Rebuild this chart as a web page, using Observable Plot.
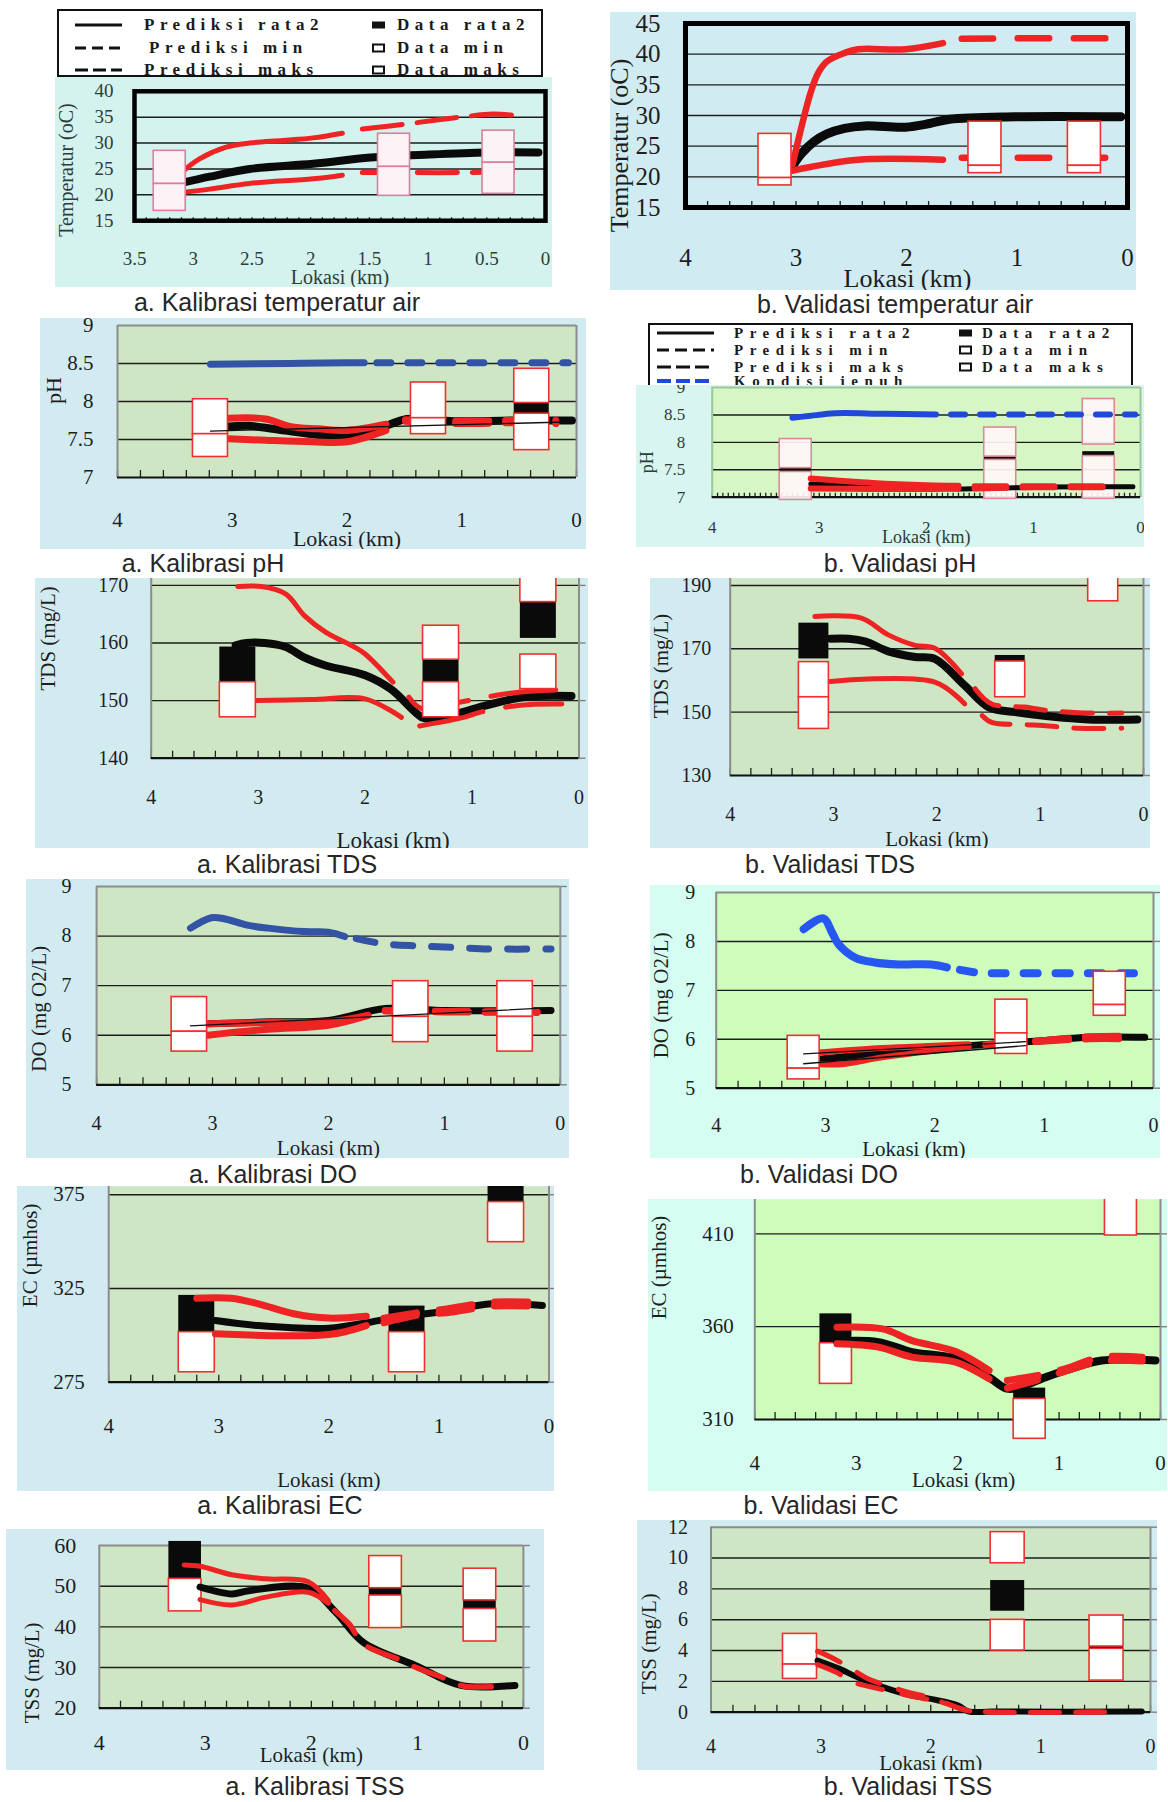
<!DOCTYPE html>
<html><head><meta charset="utf-8">
<script src="https://cdn.jsdelivr.net/npm/d3@7"></script>
<script src="https://cdn.jsdelivr.net/npm/@observablehq/plot@0.6"></script>
<style>
body{margin:0;background:#fff;}
#page{position:relative;width:1168px;height:1802px;overflow:hidden;background:#fff;}
.panel{position:absolute;overflow:hidden;z-index:2;}
.panel svg{display:block;}
.cap{position:absolute;transform:translate(-50%,-50%);font-family:'Liberation Sans',Arial,sans-serif;font-size:25px;color:#262626;white-space:nowrap;}
.legend{position:absolute;z-index:1;background:#fff;border:2px solid #111;box-sizing:border-box;overflow:hidden;}
.legend .t{position:absolute;white-space:nowrap;transform:translateY(-50%);font-family:'Liberation Serif',serif;color:#1a1a1a;font-weight:bold;}
.legend .s{position:absolute;transform:translateY(-50%);}
</style></head><body><div id="page"></div>
<script>
// ---------------- DATA ----------------
// a. Kalibrasi temperatur air
const tempKalRata = [[3.08,22.4],[2.86,23.5],[2.52,25.0],[1.98,26.0],[1.49,27.2],[0.99,27.8],[0.5,28.2],[0.06,28.2]];
const tempKalMaks = [[3.08,24.7],[2.95,26.9],[2.72,29.2],[2.52,30.0],[2.24,30.5],[1.98,31.0],[1.73,31.9],[1.56,32.7],[1.18,33.7],[0.91,34.5],[0.69,35.1],[0.45,35.6],[0.23,35.3]];
const tempKalMin = [[3.08,20.5],[2.86,21.1],[2.52,22.2],[1.98,23.1],[1.73,23.8],[1.56,24.3],[1.2,24.3],[0.69,24.3],[0.26,24.5]];
const tempKalData = [{km:3.2,maks:[22.1,28.5],min:[16.9,22.1]},{km:1.29,maks:[25.4,31.8],min:[19.8,25.4]},{km:0.40,maks:[26.2,32.4],min:[20.2,26.2]}];
// b. Validasi temperatur air
const tempValRata = [[3.03,21.8],[2.95,23.8],[2.84,25.7],[2.72,27.0],[2.56,27.9],[2.38,28.3],[2.01,28.1],[1.79,28.7],[1.61,29.4],[1.02,29.8],[0.06,29.8]];
const tempValMaks = [[3.03,22.1],[2.87,33.6],[2.80,36.9],[2.72,38.8],[2.56,40.2],[2.44,40.8],[2.01,40.8],[1.67,41.8],[1.5,42.5],[1.0,42.6],[0.19,42.6]];
const tempValMin = [[3.03,21.0],[2.87,21.6],[2.44,22.8],[1.67,22.8],[1.5,23.1],[0.19,23.1]];
const tempValData = [{km:3.19,maks:[19.8,27.0],min:[18.6,19.8]},{km:1.29,maks:[21.8,29.0],min:[20.6,21.8]},{km:0.39,maks:[21.8,29.0],min:[20.6,21.8]}];
// a. Kalibrasi pH
const phKalJenuh = [[3.19,8.49],[2.5,8.5],[2.0,8.51],[1.85,8.51],[1.74,8.51],[0.07,8.51]];
const phKalRata = [[3.03,7.67],[2.86,7.68],[2.56,7.62],[2.25,7.56],[2.0,7.54],[1.66,7.68],[1.48,7.77],[1.07,7.74],[0.55,7.75],[0.04,7.75]];
const phKalMaks = [[3.03,7.78],[2.71,7.77],[2.49,7.67],[2.25,7.64],[2.0,7.62],[1.66,7.70],[1.49,7.76],[1.01,7.74],[0.58,7.75],[0.18,7.75]];
const phKalMin = [[3.03,7.51],[2.71,7.49],[2.31,7.47],[2.0,7.47],[1.66,7.62],[1.49,7.74],[1.01,7.71],[0.58,7.72],[0.18,7.71]];
const phKalTipis = [[3.19,7.61],[0.09,7.73]];
const phKalData = [{km:3.19,maks:[7.57,8.03],min:[7.27,7.57]},{km:1.29,maks:[7.78,8.25],min:[7.57,7.78]},{km:0.39,maks:[7.98,8.43],rata:[7.84,7.98],min:[7.36,7.84]}];
// b. Validasi pH
const phValJenuh = [[3.25,8.45],[3.10,8.48],[2.85,8.53],[2.4,8.52],[1.91,8.51],[1.77,8.51],[0.05,8.51]];
const phValRata = [[3.08,7.24],[2.5,7.2],[2.0,7.17],[1.7,7.15],[1.5,7.16],[1.0,7.18],[0.5,7.19],[0.07,7.19]];
const phValMaks = [[3.08,7.34],[2.5,7.26],[2.0,7.22],[1.7,7.21],[1.55,7.2],[1.0,7.2],[0.3,7.2]];
const phValMin = [[3.08,7.16],[2.5,7.15],[2.0,7.15],[1.7,7.16],[1.55,7.16],[1.0,7.18],[0.3,7.18]];
const phValData = [{km:3.22,maks:[7.53,8.06],rata:[7.46,7.53],min:[6.95,7.46]},{km:1.31,maks:[7.74,8.27],rata:[7.68,7.74],min:[6.97,7.68]},{km:0.39,maks:[7.96,8.79],rata:[7.75,7.83],min:[6.97,7.75]}];
// a. Kalibrasi TDS
const tdsKalRata = [[3.21,159.6],[3.11,160.0],[2.94,160.0],[2.74,159.3],[2.57,157.5],[2.37,156.1],[2.0,154.4],[1.76,152.0],[1.47,147.1],[1.39,146.8],[1.09,148.0],[0.92,148.9],[0.51,150.6],[0.07,150.8]];
const tdsKalMaks = [[3.19,169.8],[2.97,169.8],[2.74,168.5],[2.57,164.8],[2.37,161.9],[2.10,159.3],[2.0,158.1],[1.74,153.2],[1.59,150.6],[1.47,148.6],[1.12,149.7],[0.9,150.5],[0.55,151.5],[0.16,151.9]];
const tdsKalMin = [[3.02,150.0],[2.5,150.2],[2.0,150.3],[1.66,147.1],[1.49,145.6],[1.1,147.0],[0.92,148.0],[0.55,149.2],[0.16,149.4]];
const tdsKalData = [{km:3.19,rata:[153.2,159.3],min:[147.1,153.2]},{km:1.29,maks:[157.1,163.0],rata:[153.2,157.1],min:[147.1,153.2]},{km:0.38,maks:[167.1,173.2],rata:[160.8,167.1],min:[152.0,158.0]}];
// b. Validasi TDS
const tdsValRata = [[3.03,173.2],[2.85,173.2],[2.69,172.3],[2.47,169.2],[2.21,167.4],[2.02,166.8],[1.73,158.4],[1.5,151.6],[1.24,150.0],[0.92,148.7],[0.53,147.7],[0.06,147.7]];
const tdsValMaks = [[3.18,180.2],[2.73,179.7],[2.47,174.4],[2.21,171.1],[2.02,170.2],[1.76,162.1],[1.63,157.4],[1.47,152.6],[1.15,151.6],[0.97,150.7],[0.63,149.8],[0.21,149.7]];
const tdsValMin = [[3.03,159.7],[2.02,159.5],[1.73,152.6],[1.56,148.9],[1.47,146.8],[1.15,146.1],[0.97,145.8],[0.63,144.9],[0.21,144.9]];
const tdsValData = [{km:3.19,rata:[166.8,178.1],maks:[154.7,165.8],min:[144.7,154.7]},{km:1.29,rata:[166.0,167.9],min:[154.7,166.0]},{km:0.39,maks:[185.0,196.0]}];
// a. Kalibrasi DO
const doKalJenuh = [[3.19,8.16],[3.01,8.37],[2.90,8.35],[2.70,8.22],[2.52,8.16],[2.21,8.09],[2.0,8.08],[1.86,7.99],[1.76,7.95],[1.51,7.84],[1.21,7.80],[0.9,7.77],[0.6,7.74],[0.08,7.74]];
const doKalRata = [[3.04,6.23],[2.5,6.27],[2.0,6.30],[1.51,6.54],[0.99,6.50],[0.08,6.50]];
const doKalMaks = [[3.04,6.23],[2.5,6.26],[2.0,6.27],[1.66,6.40],[1.51,6.50],[1.0,6.48],[0.2,6.47]];
const doKalMin = [[3.04,6.0],[2.52,6.12],[2.0,6.20],[1.66,6.40],[1.51,6.49],[1.0,6.47],[0.2,6.46]];
const doKalTipis = [[3.19,6.19],[0.2,6.54]];
const doKalData = [{km:3.20,maks:[6.07,6.77],min:[5.67,6.07]},{km:1.29,maks:[6.37,7.09],min:[5.86,6.37]},{km:0.39,maks:[6.37,7.09],min:[5.67,6.37]}];
// b. Validasi DO
const doValJenuh = [[3.20,8.25],[3.02,8.47],[2.94,8.18],[2.88,7.94],[2.73,7.67],[2.55,7.57],[2.33,7.53],[2.03,7.53],[1.89,7.47],[1.77,7.42],[1.60,7.36],[1.33,7.35],[0.11,7.35]];
const doValRata = [[3.06,5.59],[2.48,5.72],[1.69,5.87],[1.02,5.97],[0.59,6.04],[0.08,6.04]];
const doValMaks = [[3.06,5.73],[2.48,5.82],[1.69,5.90],[1.54,5.90],[1.02,5.98],[0.59,6.06],[0.2,6.07]];
const doValMin = [[3.06,5.49],[2.85,5.49],[2.48,5.63],[1.69,5.85],[1.54,5.88],[1.02,5.95],[0.59,6.0],[0.2,6.0]];
const doValTipis1 = [[3.20,5.70],[1.17,5.95]];
const doValTipis2 = [[3.20,5.50],[1.17,5.87]];
const doValData = [{km:3.20,maks:[5.40,6.07],min:[5.18,5.40]},{km:1.30,maks:[6.12,6.81],min:[5.70,6.12]},{km:0.40,maks:[6.70,7.38],min:[6.48,6.70]}];
// a. Kalibrasi EC
const ecKalRata = [[3.03,307.9],[2.64,305.2],[2.0,303.8],[1.63,307.0],[1.37,309.7],[0.96,312.7],[0.52,316.8],[0.06,315.9]];
const ecKalMaks = [[3.2,319.8],[2.89,319.8],[2.64,316.8],[2.32,311.5],[2.0,309.2],[1.66,310.2],[1.5,309.2],[1.12,312.7],[0.93,314.1],[0.52,317.7],[0.17,317.7]];
const ecKalMin = [[3.03,300.8],[2.0,300.4],[1.66,305.2],[1.5,306.7],[1.12,311.5],[0.93,312.0],[0.52,315.6],[0.17,315.6]];
const ecKalData = [{km:3.20,rata:[301.7,321.3],min:[280.3,301.7]},{km:1.29,rata:[301.7,315.6],min:[280.3,301.7]},{km:0.39,rata:[371.1,392.0],min:[349.7,371.1]}];
// b. Validasi EC
const ecValRata = [[3.19,352.2],[2.78,351.7],[2.45,346.3],[2.02,342.7],[1.69,332.8],[1.50,326.5],[1.13,332.8],[0.94,336.4],[0.58,341.8],[0.05,341.8]];
const ecValMaks = [[3.19,359.7],[2.74,358.8],[2.45,352.5],[2.02,346.6],[1.69,336.4],[1.51,331.0],[1.13,334.6],[0.94,337.3],[0.58,343.6],[0.18,343.6]];
const ecValMin = [[3.19,350.8],[2.78,349.0],[2.45,343.6],[2.02,340.9],[1.69,331.9],[1.51,326.9],[1.13,332.5],[0.94,336.0],[0.58,341.5],[0.18,341.5]];
const ecValData = [{km:3.20,rata:[351.1,366.9],min:[329.2,351.1]},{km:1.29,rata:[321.1,326.9],min:[299.6,321.1]},{km:0.39,maks:[409.1,432.0]}];
// a. Kalibrasi TSS
const tssKalRata = [[3.05,49.8],[2.75,48.1],[2.59,48.9],[2.03,49.5],[1.77,43.6],[1.51,36.2],[1.02,30.5],[0.59,25.6],[0.08,25.6]];
const tssKalMaks = [[3.2,55.2],[3.05,54.9],[2.75,52.8],[2.43,51.8],[2.03,51.1],[1.84,46.5],[1.78,44.0],[1.64,40.7],[1.51,35.8],[1.18,32.1],[1.02,30.1],[0.69,26.8],[0.56,25.4],[0.21,25.4]];
const tssKalMin = [[3.05,46.7],[2.75,45.4],[2.43,47.3],[2.03,48.5],[1.84,45.8],[1.78,44.0],[1.64,40.5],[1.51,35.8],[1.18,32.0],[1.02,30.1],[0.69,26.8],[0.56,25.4],[0.21,25.4]];
const tssKalData = [{km:3.19,rata:[51.8,61.0],min:[43.8,51.8]},{km:1.30,maks:[49.5,57.4],rata:[47.7,49.5],min:[39.7,47.7]},{km:0.41,maks:[46.5,54.3],rata:[44.4,46.5],min:[36.4,44.4]}];
// b. Validasi TSS
const tssValRata = [[3.03,3.35],[2.83,2.81],[2.68,2.31],[2.52,1.84],[2.21,1.15],[2.0,0.86],[1.75,0.43],[1.66,0.06],[1.44,0.04],[0.08,0.04]];
const tssValMaks = [[3.03,3.96],[2.86,3.39],[2.71,2.75],[2.55,2.1],[2.4,1.73],[2.21,1.3],[2.0,0.95],[1.87,0.58],[1.7,0.2],[1.55,0.04],[0.3,0.02]];
const tssValMin = [[3.03,3.09],[2.86,2.59],[2.71,1.95],[2.55,1.65],[2.4,1.41],[2.21,1.1],[2.0,0.8],[1.87,0.6],[1.7,0.15],[1.55,0.02],[0.3,0.02]];
const tssValData = [{km:3.19,maks:[3.09,5.08],min:[2.16,3.09]},{km:1.30,maks:[9.66,11.68],rata:[6.55,8.54],min:[4.0,5.99]},{km:0.40,maks:[4.26,6.27],rata:[4.11,4.26],min:[2.05,4.11]}];

// tick labels
const kmTicks = [4,3,2,1,0];
const kmTicksHalf = [3.5,3,2.5,2,1.5,1,0.5,0];

// ---------------- DRAWING ----------------
const serif = "'Liberation Serif','Times New Roman',serif";
const RED = "#ee2424", BLK = "#0a0a0a";
const page = document.getElementById("page");

function seriesMarks(s) {
  const cut = s.cut ?? -Infinity;
  const solid = s.pts.filter(p => p[0] >= cut);
  const dashed = s.pts.filter(p => p[0] <= cut);
  const base = {x: d => d[0], y: d => d[1], stroke: s.color, strokeWidth: s.width, curve: "catmull-rom", strokeLinecap: "round", strokeLinejoin: "round"};
  const out = [];
  if (solid.length > 1) out.push(Plot.line(solid, base));
  if (dashed.length > 1) {
    const [D, G] = s.dash;
    out.push(Plot.line(dashed, {...base, strokeDasharray: `${Math.max(0.5, D - s.width)},${G + s.width}`}));
  }
  return out;
}

function boxMarks(data, c) {
  const hw = c.boxHW;
  const base = {x1: d => d.km, x2: d => d.km, insetLeft: -hw, insetRight: -hw};
  const wb = {fill: c.boxFill || "#fff", fillOpacity: c.boxOpacity || 1, stroke: c.boxStroke || "#ee3030", strokeWidth: 1.6};
  return [
    Plot.rect(data.filter(d => d.rata), {...base, y1: d => d.rata[0], y2: d => d.rata[1], fill: BLK}),
    Plot.rect(data.filter(d => d.maks), {...base, y1: d => d.maks[0], y2: d => d.maks[1], ...wb}),
    Plot.rect(data.filter(d => d.min), {...base, y1: d => d.min[0], y2: d => d.min[1], ...wb})
  ];
}

function makePanel(c) {
  const ml = c.fx0 - c.left, mr = c.left + c.w - c.fx1, mt = c.fy0 - c.top, mb = c.top + c.h - c.fy1;
  const pw = c.w - ml - mr, ph = c.h - mt - mb;
  const [x0, x1] = c.xDomain;
  const [y0, y1] = c.yDomain;
  const fs = c.fontSize, ts = c.titleSize || c.fontSize;
  const ink = c.ink || "#1e1e1e";
  const marks = [Plot.frame({fill: c.plotBg})];
  marks.push(Plot.ruleY(c.grid, {stroke: "#1c1c1c", strokeWidth: 1.4}));
  if (c.outTicks) marks.push(Plot.ruleY(c.yTicks, {insetLeft: pw, insetRight: -7, stroke: "#808080", strokeWidth: 1.4}));
  const n = Math.round(Math.abs(x0 - x1) / c.minorStep);
  marks.push(Plot.ruleX(d3.range(n + 1).map(i => x1 + i * c.minorStep), {insetTop: ph - c.minorLen, stroke: "#222", strokeWidth: 1.3}));
  if (c.frame === "black") {
    marks.push(Plot.frame({stroke: "#000", strokeWidth: c.frameW}));
  } else {
    const fc = c.frameColor || "#8c8c8c";
    marks.push(Plot.ruleX([x0, x1], {stroke: fc, strokeWidth: 2}));
    if (!c.topCut) marks.push(Plot.ruleY([y1], {stroke: fc, strokeWidth: 2}));
    marks.push(Plot.ruleY([y0], {stroke: "#111", strokeWidth: 2.2}));
  }
  const lineMarks = c.series.flatMap(seriesMarks);
  const boxes = boxMarks(c.data, c);
  const thin = (c.thin || []).map(t => Plot.line(t, {x: d => d[0], y: d => d[1], stroke: "#111", strokeWidth: 1.3}));
  if (c.linesOver) marks.push(...boxes, ...lineMarks, ...thin);
  else marks.push(...lineMarks, ...boxes, ...thin);
  const txt = {fontFamily: serif, fill: ink, lineAnchor: "middle"};
  marks.push(Plot.text(c.xTicks, {...txt, x: d => d, y: () => y0, dy: c.xLabDy, text: d => String(d), fontSize: fs, textAnchor: "middle"}));
  marks.push(Plot.text(c.yTicks, {...txt, x: () => x0, y: d => d, dx: c.yLabDx, text: d => String(d), fontSize: fs, textAnchor: "end"}));
  marks.push(Plot.text([c.xTitle], {...txt, frameAnchor: "bottom", dx: c.xTitleDx, dy: c.xTitleDy, text: d => d, fontSize: c.xTitleSize || ts, textAnchor: "middle"}));
  marks.push(Plot.text([c.yTitle], {...txt, frameAnchor: "left", rotate: -90, dx: c.yTitleDx, dy: c.yTitleDy, text: d => d, fontSize: ts, textAnchor: "middle"}));

  const svg = Plot.plot({
    width: c.w, height: c.h,
    marginLeft: ml, marginRight: mr, marginTop: mt, marginBottom: mb,
    x: {domain: c.xDomain, axis: null},
    y: {domain: c.yDomain, axis: null},
    style: {background: "transparent", overflow: "hidden"},
    marks
  });
  const div = document.createElement("div");
  div.className = "panel";
  div.style.cssText = `left:${c.left}px;top:${c.top}px;width:${c.w}px;height:${c.h}px;background:${c.outerBg};`;
  div.append(svg);
  page.append(div);
  const cap = document.createElement("div");
  cap.className = "cap";
  cap.textContent = c.caption[0];
  cap.style.left = c.caption[1] + "px";
  cap.style.top = c.caption[2] + "px";
  page.append(cap);
}

function makeLegend(L) {
  const d = document.createElement("div");
  d.className = "legend";
  d.style.cssText = `left:${L.left}px;top:${L.top}px;width:${L.w}px;height:${L.h}px;`;
  for (const r of L.rows) {
    const s = document.createElement("div");
    s.className = "s";
    const col = r.color || "#111";
    const bg = r.sample === "solid" ? col : `repeating-linear-gradient(90deg, ${col} 0 ${r.dl}px, transparent ${r.dl}px ${r.dl + r.dg}px)`;
    s.style.cssText = `left:${L.sx}px;top:${r.y}px;width:${L.sw}px;height:${r.th || 3}px;background:${bg};`;
    d.append(s);
    const t = document.createElement("div");
    t.className = "t";
    t.textContent = r.text;
    t.style.cssText += `left:${r.tx}px;top:${r.y}px;font-size:${L.font}px;letter-spacing:${L.ls}px;`;
    d.append(t);
    if (r.mtext) {
      const m = document.createElement("div");
      m.className = "s";
      m.style.cssText = r.mk === "fill"
        ? `left:${L.mx}px;top:${r.y}px;width:13px;height:7px;background:#111;`
        : `left:${L.mx}px;top:${r.y}px;width:9px;height:5px;border:2.5px solid #111;background:#fff;`;
      d.append(m);
      const mt = document.createElement("div");
      mt.className = "t";
      mt.textContent = r.mtext;
      mt.style.cssText += `left:${L.mtx}px;top:${r.y}px;font-size:${L.font}px;letter-spacing:${L.ls}px;`;
      d.append(mt);
    }
  }
  page.append(d);
}

const greenPlot = "#cfe6c4", blueOuter = "#d2ebf1";

const panels = [
  {left:55, top:77, w:497, h:210, fx0:134, fx1:545, fy0:90.8, fy1:220.2,
   xDomain:[3.5,0], yDomain:[15,40], xTicks:kmTicksHalf, yTicks:[15,20,25,30,35,40], grid:[20,25,30,35],
   xLabDy:38, yLabDx:-21, xTitle:"Lokasi (km)", xTitleDx:0, xTitleDy:57, yTitle:"Temperatur (oC)", yTitleDx:-68, yTitleDy:14,
   fontSize:19, titleSize:20, ink:"#2e3d3a", frame:"black", frameW:4.5, plotBg:"#d4f2ee", outerBg:"#d4f2ee",
   minorStep:0.1, minorLen:3, boxHW:16, boxStroke:"#e07d9c", boxFill:"#fdf3f7",
   series:[{pts:tempKalRata,color:BLK,width:8},{pts:tempKalMaks,cut:1.65,color:RED,width:5,dash:[45,10]},{pts:tempKalMin,cut:1.65,color:RED,width:5,dash:[45,10]}],
   data:tempKalData, caption:["a. Kalibrasi temperatur air",277,302]},
  {left:610, top:12, w:526, h:278, fx0:685, fx1:1127, fy0:23, fy1:207,
   xDomain:[4,0], yDomain:[15,45], xTicks:kmTicks, yTicks:[15,20,25,30,35,40,45], grid:[20,25,30,35,40],
   xLabDy:50, yLabDx:-25, xTitle:"Lokasi (km)", xTitleDx:1, xTitleDy:71, yTitle:"Temperatur (oC)", yTitleDx:-66, yTitleDy:30,
   fontSize:25, titleSize:26, frame:"black", frameW:5, plotBg:"#d0ebf2", outerBg:"#d0ebf2",
   minorStep:0.2, minorLen:6, boxHW:16.5,
   series:[{pts:tempValRata,color:BLK,width:9},{pts:tempValMaks,cut:1.6,color:RED,width:6.5,dash:[38,18]},{pts:tempValMin,cut:1.6,color:RED,width:6.5,dash:[38,18]}],
   data:tempValData, caption:["b. Validasi temperatur air",895,304]},
  {left:40, top:318, w:546, h:231, fx0:117, fx1:576, fy0:325, fy1:477,
   xDomain:[4,0], yDomain:[7,9], xTicks:kmTicks, yTicks:[7,7.5,8,8.5,9], grid:[7.5,8,8.5],
   xLabDy:43, yLabDx:-24, xTitle:"Lokasi (km)", xTitleDx:0, xTitleDy:61, yTitle:"pH", yTitleDx:-64, yTitleDy:-11,
   fontSize:21, titleSize:22, plotBg:greenPlot, outerBg:blueOuter,
   minorStep:0.2, minorLen:7, boxHW:17.5,
   series:[{pts:phKalJenuh,cut:1.8,color:"#3353a5",width:7,dash:[21,10]},{pts:phKalRata,color:BLK,width:8},{pts:phKalMaks,cut:1.6,color:RED,width:7,dash:[40,10]},{pts:phKalMin,cut:1.6,color:RED,width:7,dash:[40,10]}],
   thin:[phKalTipis], data:phKalData, caption:["a. Kalibrasi pH",203,563]},
  {left:636, top:385, w:508, h:162, fx0:711.7, fx1:1140, fy0:387, fy1:496.7,
   xDomain:[4,0], yDomain:[7,9], xTicks:kmTicks, yTicks:[7,7.5,8,8.5,9], grid:[7.5,8,8.5],
   xLabDy:30, yLabDx:-27, xTitle:"Lokasi (km)", xTitleDx:0, xTitleDy:40, yTitle:"pH", yTitleDx:-65, yTitleDy:20,
   fontSize:17, titleSize:18, ink:"#2e3d3a", plotBg:"#d6f6c6", outerBg:"#d8f5ef", frameColor:"#9cc79c",
   minorStep:0.05, minorLen:4, boxHW:16, boxStroke:"#dc8a98", boxFill:"#fff6f6", boxOpacity:0.92, linesOver:true,
   series:[{pts:phValJenuh,cut:1.84,color:"#2148d8",width:6,dash:[20,9]},{pts:phValRata,color:BLK,width:5},{pts:phValMaks,cut:1.62,color:RED,width:6,dash:[38,10]},{pts:phValMin,cut:1.62,color:RED,width:6,dash:[38,10]}],
   data:phValData, caption:["b. Validasi pH",900,563]},
  {left:35, top:578, w:553, h:270, fx0:150.7, fx1:578.5, fy0:578, fy1:757.7,
   xDomain:[4,0], yDomain:[140,171.2], xTicks:kmTicks, yTicks:[140,150,160,170], grid:[150,160,170], topCut:true, outTicks:true,
   xLabDy:39, yLabDx:-23, xTitle:"Lokasi (km)", xTitleDx:28, xTitleDy:82, xTitleSize:23, yTitle:"TDS (mg/L)", yTitleDx:-103, yTitleDy:-30,
   fontSize:20, titleSize:21, plotBg:greenPlot, outerBg:blueOuter,
   minorStep:0.2, minorLen:7, boxHW:18,
   series:[{pts:tdsKalRata,color:BLK,width:8},{pts:tdsKalMaks,cut:1.66,color:RED,width:5,dash:[70,18]},{pts:tdsKalMin,cut:1.6,color:RED,width:5,dash:[70,18]}],
   data:tdsKalData, caption:["a. Kalibrasi TDS",287,864]},
  {left:650, top:578, w:500, h:270, fx0:729.7, fx1:1143, fy0:578, fy1:775,
   xDomain:[4,0], yDomain:[130,192.2], xTicks:kmTicks, yTicks:[130,150,170,190], grid:[150,170,190], topCut:true, outTicks:true,
   xLabDy:39, yLabDx:-19, xTitle:"Lokasi (km)", xTitleDx:0, xTitleDy:64, yTitle:"TDS (mg/L)", yTitleDx:-69, yTitleDy:-11,
   fontSize:20, titleSize:21, plotBg:greenPlot, outerBg:blueOuter,
   minorStep:0.2, minorLen:7, boxHW:15,
   series:[{pts:tdsValRata,color:BLK,width:8},{pts:tdsValMaks,cut:1.7,color:RED,width:5,dash:[35,12]},{pts:tdsValMin,cut:1.65,color:RED,width:5,dash:[35,12]}],
   data:tdsValData, caption:["b. Validasi TDS",830,864]},
  {left:26, top:879, w:543, h:279, fx0:96.1, fx1:559.8, fy0:886, fy1:1084.3,
   xDomain:[4,0], yDomain:[5,9], xTicks:kmTicks, yTicks:[5,6,7,8,9], grid:[6,7,8], outTicks:true,
   xLabDy:39, yLabDx:-25, xTitle:"Lokasi (km)", xTitleDx:0, xTitleDy:63, yTitle:"DO (mg O2/L)", yTitleDx:-57, yTitleDy:23,
   fontSize:20, titleSize:21, plotBg:greenPlot, outerBg:blueOuter,
   minorStep:0.2, minorLen:7, boxHW:17.7,
   series:[{pts:doKalJenuh,cut:1.8,color:"#3353a5",width:7,dash:[26,12]},{pts:doKalRata,color:BLK,width:7},{pts:doKalMaks,cut:1.6,color:RED,width:7,dash:[40,10]},{pts:doKalMin,cut:1.6,color:RED,width:7,dash:[40,10]}],
   thin:[doKalTipis], data:doKalData, caption:["a. Kalibrasi DO",273,1174]},
  {left:650, top:885, w:510, h:273, fx0:715.7, fx1:1153, fy0:892, fy1:1087.7,
   xDomain:[4,0], yDomain:[5,9], xTicks:kmTicks, yTicks:[5,6,7,8,9], grid:[6,7,8], outTicks:true,
   xLabDy:37, yLabDx:-21, xTitle:"Lokasi (km)", xTitleDx:-21, xTitleDy:61, yTitle:"DO (mg O2/L)", yTitleDx:-55, yTitleDy:5,
   fontSize:20, titleSize:21, plotBg:"#cdfcbb", outerBg:"#d5fdf1",
   minorStep:0.2, minorLen:7, boxHW:16,
   series:[{pts:doValJenuh,cut:1.83,color:"#2657f0",width:8,dash:[22,10]},{pts:doValRata,color:BLK,width:7},{pts:doValMaks,cut:1.6,color:RED,width:6,dash:[40,10]},{pts:doValMin,cut:1.6,color:RED,width:6,dash:[40,10]}],
   thin:[doValTipis1, doValTipis2], data:doValData, caption:["b. Validasi DO",819,1174]},
  {left:17, top:1186, w:537, h:305, fx0:108.2, fx1:548.5, fy0:1186, fy1:1381.7,
   xDomain:[4,0], yDomain:[275,379.4], xTicks:kmTicks, yTicks:[275,325,375], grid:[325,375], topCut:true, outTicks:true,
   xLabDy:44, yLabDx:-24, xTitle:"Lokasi (km)", xTitleDx:0, xTitleDy:98, yTitle:"EC (µmhos)", yTitleDx:-78, yTitleDy:-29,
   fontSize:21, titleSize:21, plotBg:greenPlot, outerBg:blueOuter,
   minorStep:0.2, minorLen:7, boxHW:18, linesOver:true,
   series:[{pts:ecKalRata,color:BLK,width:7},{pts:ecKalMaks,cut:1.58,color:RED,width:7,dash:[40,16]},{pts:ecKalMin,cut:1.58,color:RED,width:7,dash:[40,16]}],
   data:ecKalData, caption:["a. Kalibrasi EC",280,1505]},
  {left:648, top:1199, w:519, h:292, fx0:754.3, fx1:1160, fy0:1199, fy1:1419,
   xDomain:[4,0], yDomain:[310,428.5], xTicks:kmTicks, yTicks:[310,360,410], grid:[360,410], topCut:true, outTicks:true,
   xLabDy:44, yLabDx:-21, xTitle:"Lokasi (km)", xTitleDx:6, xTitleDy:61, yTitle:"EC (µmhos)", yTitleDx:-96, yTitleDy:-42,
   fontSize:21, titleSize:21, plotBg:"#cdfcbb", outerBg:"#d5fdf1",
   minorStep:0.2, minorLen:7, boxHW:16, linesOver:true,
   series:[{pts:ecValRata,color:BLK,width:8},{pts:ecValMaks,cut:1.6,color:RED,width:7,dash:[38,16]},{pts:ecValMin,cut:1.6,color:RED,width:7,dash:[38,16]}],
   data:ecValData, caption:["b. Validasi EC",821,1505]},
  {left:6, top:1529, w:538, h:241, fx0:98.8, fx1:522.9, fy0:1545, fy1:1707.7,
   xDomain:[4,0], yDomain:[20,60], xTicks:kmTicks, yTicks:[20,30,40,50,60], grid:[30,40,50], outTicks:true,
   xLabDy:35, yLabDx:-23, xTitle:"Lokasi (km)", xTitleDx:0, xTitleDy:47, yTitle:"TSS (mg/L)", yTitleDx:-67, yTitleDy:46,
   fontSize:22, titleSize:21, plotBg:greenPlot, outerBg:blueOuter,
   minorStep:0.2, minorLen:7, boxHW:16.3, linesOver:true,
   series:[{pts:tssKalRata,color:BLK,width:7},{pts:tssKalMaks,cut:1.81,color:RED,width:5,dash:[36,14]},{pts:tssKalMin,cut:1.81,color:RED,width:5,dash:[36,14]}],
   data:tssKalData, caption:["a. Kalibrasi TSS",315,1786]},
  {left:637, top:1520, w:520, h:250, fx0:710.5, fx1:1150, fy0:1526.7, fy1:1711.7,
   xDomain:[4,0], yDomain:[0,12], xTicks:kmTicks, yTicks:[0,2,4,6,8,10,12], grid:[2,4,6,8,10], outTicks:true,
   xLabDy:34, yLabDx:-23, xTitle:"Lokasi (km)", xTitleDx:0, xTitleDy:51, yTitle:"TSS (mg/L)", yTitleDx:-62, yTitleDy:24,
   fontSize:20, titleSize:21, plotBg:greenPlot, outerBg:blueOuter,
   minorStep:0.2, minorLen:7, boxHW:17, linesOver:true,
   series:[{pts:tssValRata,color:BLK,width:6},{pts:tssValMaks,cut:99,color:RED,width:5,dash:[30,15]},{pts:tssValMin,cut:99,color:RED,width:5,dash:[30,15]}],
   data:tssValData, caption:["b. Validasi TSS",908,1786]}
];

makeLegend({left:57, top:9, w:486, h:68, font:17, ls:5.5, sx:16, sw:47, mx:313, mtx:338, rows:[
  {y:14, sample:"solid", text:"Prediksi rata2", tx:85, mk:"fill", mtext:"Data rata2"},
  {y:37, sample:"dash", dl:11, dg:6, text:"Prediksi min", tx:90, mk:"hollow", mtext:"Data min"},
  {y:59, sample:"dash", dl:13, dg:5, text:"Prediksi maks", tx:85, mk:"hollow", mtext:"Data maks"}
]});
makeLegend({left:648, top:323, w:485, h:64, font:15, ls:6.5, sx:7, sw:57, mx:309, mtx:332, rows:[
  {y:8, sample:"solid", text:"Prediksi rata2", tx:84, mk:"fill", mtext:"Data rata2"},
  {y:25, sample:"dash", dl:12, dg:6, text:"Prediksi min", tx:84, mk:"hollow", mtext:"Data min"},
  {y:42, sample:"dash", dl:14, dg:5, text:"Prediksi maks", tx:84, mk:"hollow", mtext:"Data maks"},
  {y:56, sample:"dash", dl:14, dg:5, color:"#2148d8", th:4, text:"Kondisi jenuh", tx:84}
]});

for (const c of panels) makePanel(c);
</script></body></html>
